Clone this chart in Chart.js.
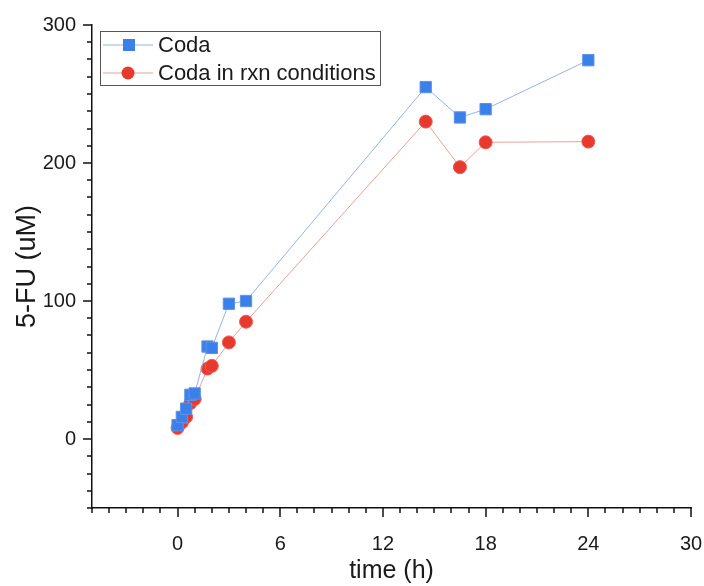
<!DOCTYPE html>
<html>
<head>
<meta charset="utf-8">
<script src="https://cdn.jsdelivr.net/npm/chart.js@4.4.1/dist/chart.umd.min.js"></script>
<style>
    html, body { margin: 0; padding: 0; background: #ffffff; }
    #wrap { width: 704px; height: 586px; }
</style>
</head>
<body>
<div id="wrap"><canvas id="fuChart" width="704" height="586"></canvas></div>
<script>
// sampling times (h) and measured 5-FU (uM)
const timePoints = [0, 0.25, 0.5, 0.75, 1, 1.75, 2, 3, 4, 14.5, 16.5, 18, 24];
const codaValues = [10, 16, 22, 32, 33, 67, 66, 98, 100, 255, 233, 239, 274.5];
const codaRxnValues = [8, 12, 16, 26, 29, 51, 53, 70, 85, 230, 197, 215, 215.5];
const seriesNames = ['Coda', 'Coda in rxn conditions'];
const xTickLabels = [0, 6, 12, 18, 24, 30];
const yTickLabels = [0, 100, 200, 300];

const FONT = '"Liberation Sans", Arial, sans-serif';

function toPoints(values) {
    return timePoints.map(function (t, i) {
        return { x: t, y: values[i] };
    });
}

// outward tick marks, long on labelled values and short between them
const tickMarks = {
    id: 'tickMarks',
    afterDraw: function (chart) {
        const ctx = chart.ctx;
        const xs = chart.scales.x;
        const ys = chart.scales.y;
        ctx.save();
        ctx.strokeStyle = '#111';
        ctx.lineWidth = 1.5;
        ctx.beginPath();
        for (let v = xs.min; v <= xs.max; v += 1) {
            const px = Math.round(xs.getPixelForValue(v));
            const len = xTickLabels.includes(v) ? 9 : 5;
            ctx.moveTo(px, xs.top);
            ctx.lineTo(px, xs.top + len);
        }
        for (let v = ys.min; v <= ys.max; v += 12.5) {
            const py = Math.round(ys.getPixelForValue(v));
            const len = yTickLabels.includes(v) ? 9 : 5;
            ctx.moveTo(ys.right, py);
            ctx.lineTo(ys.right - len, py);
        }
        ctx.stroke();
        ctx.restore();
    }
};

// boxed legend with line-marker-line samples
const boxLegend = {
    id: 'boxLegend',
    afterDraw: function (chart) {
        const ctx = chart.ctx;
        const left = 100, top = 31, right = 380, bottom = 85;
        ctx.save();
        ctx.fillStyle = '#ffffff';
        ctx.fillRect(left, top, right - left, bottom - top);
        ctx.strokeStyle = '#555';
        ctx.lineWidth = 1;
        ctx.strokeRect(left + 0.5, top + 0.5, right - left, bottom - top);
        chart.data.datasets.forEach(function (ds, i) {
            const y = 45 + i * 28;
            ctx.strokeStyle = ds.borderColor;
            ctx.lineWidth = 1;
            ctx.beginPath();
            ctx.moveTo(103, y);
            ctx.lineTo(153, y);
            ctx.stroke();
            ctx.fillStyle = ds.pointBackgroundColor;
            if (ds.pointStyle === 'rect') {
                ctx.fillRect(123, y - 6, 12, 12);
            } else {
                ctx.beginPath();
                ctx.arc(128, y, 6.5, 0, Math.PI * 2);
                ctx.fill();
            }
            ctx.fillStyle = '#1a1a1a';
            ctx.font = '22px ' + FONT;
            ctx.textBaseline = 'middle';
            ctx.fillText(ds.label, 158, y + 1);
        });
        ctx.restore();
    }
};

new Chart(document.getElementById('fuChart'), {
    type: 'scatter',
    data: {
        datasets: [{
            label: seriesNames[0],
            data: toPoints(codaValues),
            showLine: true,
            borderColor: 'rgba(140, 170, 230, 0.9)',
            borderWidth: 1,
            pointStyle: 'rect',
            pointRadius: 8,
            pointBackgroundColor: '#3b80e8',
            pointBorderColor: '#5a93ea',
            pointBorderWidth: 1,
        }, {
            label: seriesNames[1],
            data: toPoints(codaRxnValues),
            showLine: true,
            borderColor: 'rgba(230, 150, 145, 0.9)',
            borderWidth: 1,
            pointStyle: 'circle',
            pointRadius: 6.5,
            pointBackgroundColor: '#e8392f',
            pointBorderColor: '#ec5a52',
            pointBorderWidth: 1,
        }]
    },
    options: {
        responsive: false,
        animation: false,
        layout: {
            padding: { top: 25, right: 13, bottom: 0, left: 0 }
        },
        scales: {
            x: {
                type: 'linear',
                min: -5,
                max: 30,
                afterFit: function (scale) {
                    scale.height = 78;
                    scale.paddingLeft = 0;
                    scale.paddingRight = 0;
                },
                afterBuildTicks: function (scale) {
                    scale.ticks = xTickLabels.map(function (v) { return { value: v }; });
                },
                grid: { display: true, drawOnChartArea: false, drawTicks: false },
                border: { display: true, color: '#111', width: 1.5 },
                ticks: {
                    color: '#1a1a1a',
                    padding: 24,
                    maxRotation: 0,
                    font: { family: FONT, size: 20 },
                },
                title: {
                    display: true,
                    text: 'time (h)',
                    color: '#1a1a1a',
                    padding: 0,
                    font: { family: FONT, size: 25 },
                }
            },
            y: {
                type: 'linear',
                min: -50,
                max: 300,
                afterFit: function (scale) {
                    scale.width = 92;
                    scale.paddingTop = 0;
                    scale.paddingBottom = 0;
                },
                afterBuildTicks: function (scale) {
                    scale.ticks = yTickLabels.map(function (v) { return { value: v }; });
                },
                grid: { display: true, drawOnChartArea: false, drawTicks: false },
                border: { display: true, color: '#111', width: 1.5 },
                ticks: {
                    color: '#1a1a1a',
                    padding: 16,
                    font: { family: FONT, size: 20 },
                },
                title: {
                    display: true,
                    text: '5-FU (uM)',
                    color: '#1a1a1a',
                    padding: { top: 11, bottom: 0 },
                    font: { family: FONT, size: 27 },
                }
            }
        },
        plugins: {
            legend: { display: false },
            tooltip: { enabled: false }
        }
    },
    plugins: [tickMarks, boxLegend]
});
</script>
</body>
</html>
